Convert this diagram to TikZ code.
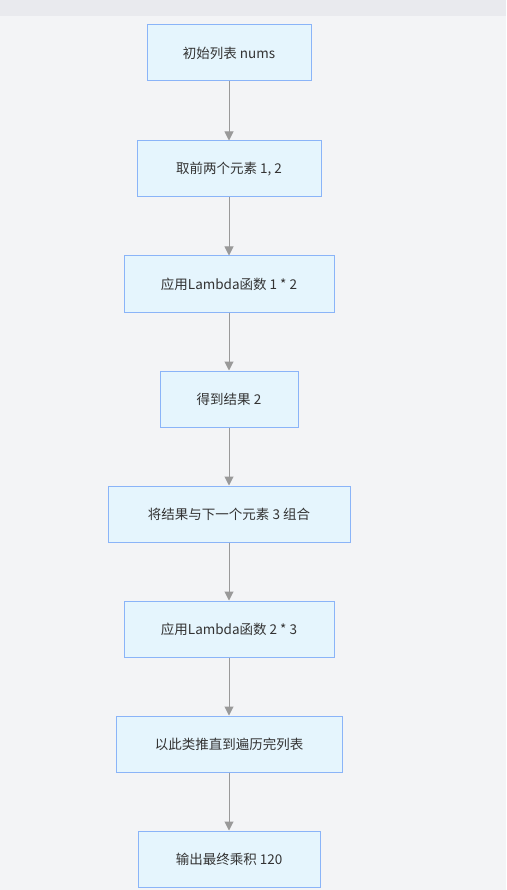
\documentclass[tikz,border=0pt]{standalone}
\usepackage{fontspec}
\setmainfont{Noto Sans CJK SC}
\usetikzlibrary{arrows.meta}
\definecolor{bg}{HTML}{F3F4F6}
\definecolor{topbar}{HTML}{E9EAEE}
\definecolor{boxfill}{HTML}{E5F5FD}
\definecolor{boxdraw}{HTML}{8AB4F8}
\definecolor{txt}{HTML}{333333}
\definecolor{arr}{HTML}{999999}
\begin{document}
\begin{tikzpicture}[x=1pt,y=-1pt,
  stepbox/.style={draw=boxdraw,fill=boxfill,line width=1pt,minimum height=56pt,inner sep=0pt,
    font=\fontsize{13.5}{16}\selectfont,text=txt,anchor=center},
  flow/.style={draw=arr,line width=1pt,-{Triangle[length=9pt,width=9pt,fill=arr]}}]
\fill[bg] (0,0) rectangle (506,890);
\fill[topbar] (0,0) rectangle (506,16);
\useasboundingbox (0,0) rectangle (506,890);
\node[stepbox,minimum width=164pt] (n1) at (229,53) {初始列表 nums};
\node[stepbox,minimum width=184pt] (n2) at (229,169) {取前两个元素 1, 2};
\node[stepbox,minimum width=210pt] (n3) at (229,284) {应用Lambda函数 1 * 2};
\node[stepbox,minimum width=138pt] (n4) at (229,399) {得到结果 2};
\node[stepbox,minimum width=242pt] (n5) at (229,514) {将结果与下一个元素 3 组合};
\node[stepbox,minimum width=210pt] (n6) at (229,629) {应用Lambda函数 2 * 3};
\node[stepbox,minimum width=226pt] (n7) at (229,744) {以此类推直到遍历完列表};
\node[stepbox,minimum width=182pt] (n8) at (229,859) {输出最终乘积 120};
\foreach \a/\b in {n1/n2,n2/n3,n3/n4,n4/n5,n5/n6,n6/n7,n7/n8}
  \draw[flow] (\a) -- (\b);
\end{tikzpicture}
\end{document}
